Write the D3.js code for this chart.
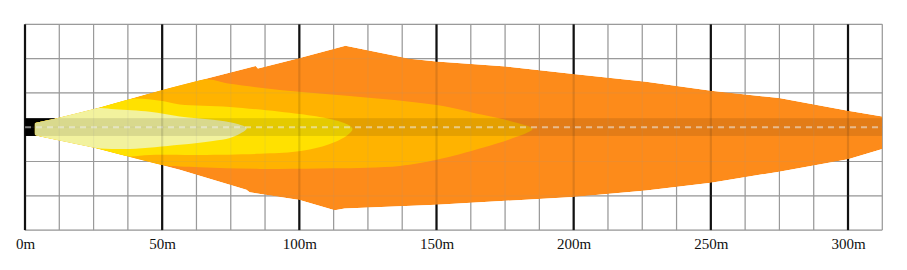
<!DOCTYPE html>
<html><head><meta charset="utf-8">
<script src="https://cdn.jsdelivr.net/npm/d3@7"></script>
<style>html,body{margin:0;padding:0;background:#fff;}svg{display:block;}</style>
</head><body>
<script>
// distances in metres (x = distance along beam, y = lateral offset)
const tickValues = [0, 50, 100, 150, 200, 250, 300];
const tickLabels = ["0m", "50m", "100m", "150m", "200m", "250m", "300m"];
const xMax = 312.5, yMax = 37.5, gridStep = 12.5;

const zoneOrange = [[3.6,1.5],[11.5,3.3],[26.2,6.9],[49.9,13.6],[84.1,22.3],[84.9,21.4],[100.1,25.2],[116.8,29.7],[140.2,24.9],[150.0,23.9],[175.4,22.1],[199.9,19.4],[226.4,16.6],[250.1,13.3],[274.9,10.6],[300.0,6.0],[312.5,3.9],
  [312.5,-7.9],[300.0,-11.7],[274.9,-16.2],[250.1,-20.2],[226.4,-23.1],[199.9,-25.4],[150.0,-28.3],[116.5,-29.6],[112.9,-30.3],[100.1,-26.5],[81.9,-23.7],[80.7,-22.8],[56.4,-15.5],[25.1,-7.5],[5.5,-3.4],[3.6,-2.8]];
const zoneAmber = [[3.6,1.5],[11.5,3.3],[26.2,6.9],[49.9,13.6],[65.5,17.5],[74.7,15.8],[92.9,13.6],[118.4,11.4],[150.0,8.1],[166.8,4.5],[179.2,1.6],[185.0,-0.6],
  [179.2,-3.5],[166.8,-7.5],[150.0,-11.9],[136.6,-14.1],[112.2,-15.0],[85.6,-15.2],[63.7,-14.6],[49.2,-13.7],[25.1,-7.5],[5.5,-3.4],[3.6,-2.8]];
const zoneYellow = [[3.6,1.5],[11.5,3.3],[26.2,6.9],[38.2,10.3],[49.2,9.6],[56.4,8.3],[74.7,7.4],[100.1,4.8],[111.1,3.0],[117.6,1.0],[119.4,-0.6],
  [117.6,-2.8],[111.1,-6.1],[99.0,-8.9],[85.6,-9.7],[63.7,-10.1],[45.5,-10.1],[37.1,-10.6],[25.1,-7.5],[5.5,-3.4],[3.6,-2.8]];
const zoneLight = [[3.6,1.5],[11.5,3.3],[26.2,6.9],[32.8,6.5],[45.5,5.6],[56.4,3.9],[68.5,2.7],[76.5,1.4],[80.8,-0.4],
  [78.3,-2.4],[74.7,-3.9],[68.5,-5.0],[56.4,-6.4],[38.2,-7.9],[25.1,-7.5],[5.5,-3.4],[3.6,-2.8]];
const zones = [zoneOrange, zoneAmber, zoneYellow, zoneLight];
const zoneColors = ["#fd8b1a", "#ffb300", "#ffe100", "#f2f29e"];
const lampBox = [0, 10.9, 3.3, -3.2];      // x0, x1, yTop, yBottom
const centreBand = [3.6, 312.5, 3.3, -3.2];

const W = 907, H = 270;
const svg = d3.select("body").append("svg").attr("width", W).attr("height", H);
const x = d3.scaleLinear().domain([0, xMax]).range([25, 882.3]);
const y = d3.scaleLinear().domain([-yMax, yMax]).range([230.1, 24.3]);

const vLines = d3.range(0, xMax + 0.01, gridStep);
const hLines = d3.range(-yMax, yMax + 0.01, gridStep);

function drawGrid(g, op) {
  g.selectAll("line.h").data(hLines).join("line").attr("class","h")
    .attr("x1", x(0)).attr("x2", x(xMax)).attr("y1", d => y(d)).attr("y2", d => y(d))
    .attr("stroke", "#9a9a9a").attr("stroke-width", 1.2).attr("opacity", op);
  g.selectAll("line.v").data(vLines).join("line").attr("class","v")
    .attr("x1", d => x(d)).attr("x2", d => x(d)).attr("y1", y(yMax)).attr("y2", y(-yMax))
    .attr("stroke", d => d % 50 === 0 ? "#111" : "#9a9a9a")
    .attr("stroke-width", d => d % 50 === 0 ? 2.2 : 1.2).attr("opacity", op);
}
drawGrid(svg.append("g"), 1);

svg.append("rect").attr("x", x(lampBox[0])).attr("width", x(lampBox[1]) - x(lampBox[0]))
  .attr("y", y(lampBox[2])).attr("height", y(lampBox[3]) - y(lampBox[2])).attr("fill", "#000");

const lineSharp = d3.line().x(d => x(d[0])).y(d => y(d[1])).curve(d3.curveLinearClosed);
const lineSmooth = d3.line().x(d => x(d[0])).y(d => y(d[1])).curve(d3.curveCatmullRomClosed.alpha(0.5));

svg.append("defs").append("clipPath").attr("id", "beamClip")
  .append("path").attr("d", lineSharp(zoneOrange));

svg.append("g").attr("clip-path", "url(#beamClip)").selectAll("path").data(zones).join("path")
  .attr("d", (d, i) => i === 0 ? lineSharp(d) : lineSmooth(d)).attr("fill", (d, i) => zoneColors[i]);

svg.append("rect").attr("x", x(centreBand[0])).attr("width", x(centreBand[1]) - x(centreBand[0]))
  .attr("y", y(centreBand[2])).attr("height", y(centreBand[3]) - y(centreBand[2]))
  .attr("fill", "#000").attr("opacity", 0.1).attr("clip-path", "url(#beamClip)");

svg.append("line").attr("x1", x(0)).attr("x2", x(xMax)).attr("y1", y(0)).attr("y2", y(0))
  .attr("stroke", "#fff").attr("stroke-opacity", 0.5).attr("stroke-width", 2).attr("stroke-dasharray", "6,5");

drawGrid(svg.append("g"), 0.12);

const axis = d3.axisBottom(x).tickValues(tickValues).tickSize(0).tickPadding(8)
  .tickFormat((d, i) => tickLabels[i]);
const ag = svg.append("g").attr("transform", `translate(0,${y(-yMax)})`).call(axis);
ag.select(".domain").remove();
ag.selectAll("text").attr("font-family", "'Liberation Serif', 'Times New Roman', serif")
  .attr("font-size", 15).attr("fill", "#111");
</script>
</body></html>
